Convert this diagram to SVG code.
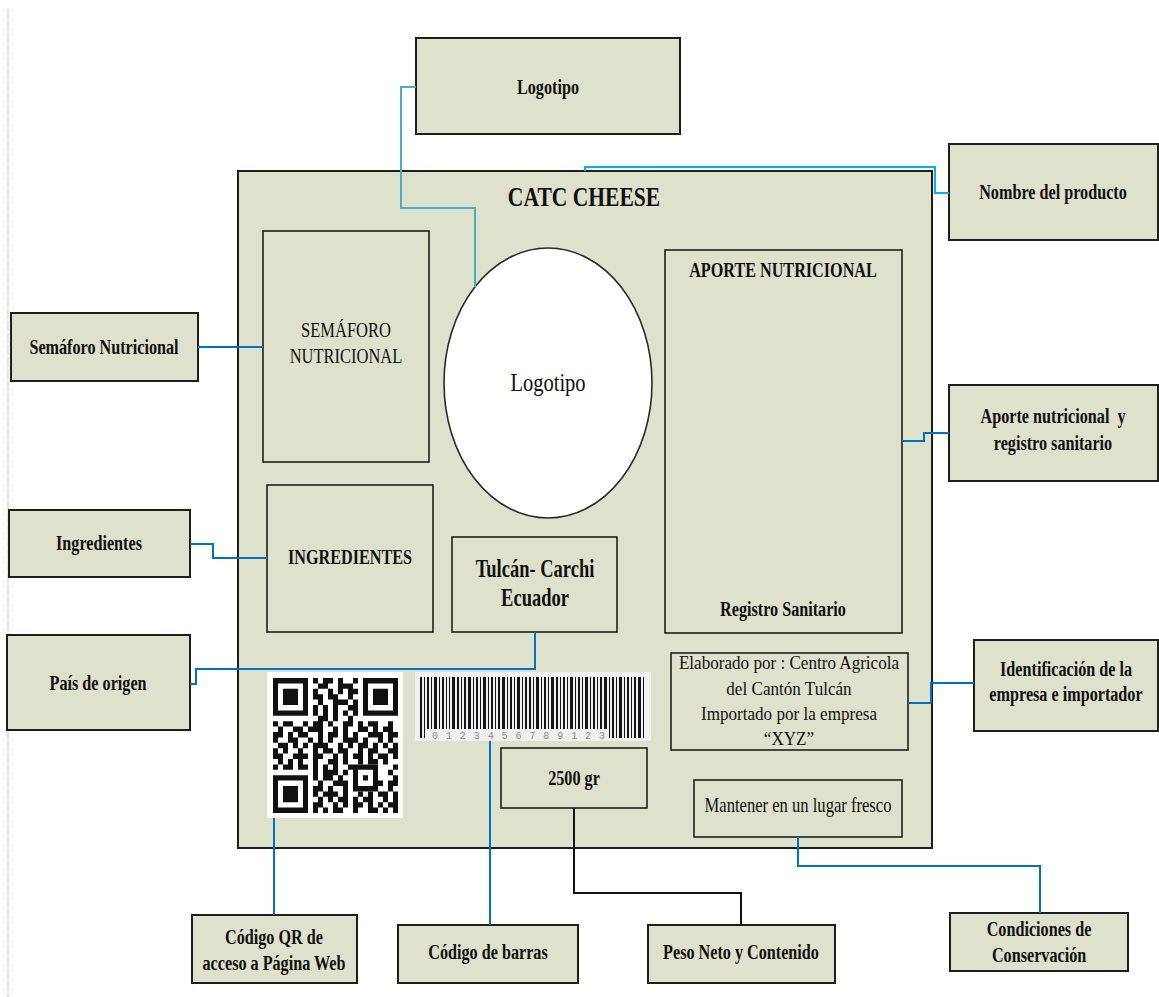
<svg xmlns="http://www.w3.org/2000/svg" width="1159" height="997" viewBox="0 0 1159 997">
  <style>
    .box { fill: #dee1cc; stroke: #1e1e1e; stroke-width: 2; }
    .inner { fill: #dee1cc; stroke: #1e1e1e; stroke-width: 1.6; }
    .t { font-family: "Liberation Serif", "Times New Roman", serif; font-size: 21px; font-weight: bold; text-anchor: middle; fill: #111;
         transform-box: fill-box; transform-origin: center; transform: scaleX(0.77); }
    .n { font-weight: normal; }
    .wire { fill: none; stroke: #0070c0; stroke-width: 2; }
  </style>

  <!-- page margin guide -->
  <line x1="8" y1="9" x2="8" y2="997" stroke="#e2e2e2" stroke-width="2" stroke-dasharray="10 2"/>

  <!-- label panel -->
  <g id="panel">
    <rect class="box" x="238" y="171" width="694" height="677"/>
    <text class="t" x="584" y="206" style="font-size:28px">CATC CHEESE</text>
  </g>

  <g id="semaforo-inner">
    <rect class="inner" x="263" y="231" width="166" height="231"/>
    <text class="t n" x="346" y="337" style="font-size:22px;transform:scaleX(0.75)">SEMÁFORO</text>
    <text class="t n" x="346" y="363" style="font-size:22px;transform:scaleX(0.75)">NUTRICIONAL</text>
  </g>

  <g id="logo-oval">
    <ellipse cx="548" cy="383" rx="104" ry="135" fill="#fff" stroke="#2a2a2a" stroke-width="1.6"/>
    <text class="t n" x="548" y="391" style="font-size:26px;transform:scaleX(0.79)">Logotipo</text>
  </g>

  <g id="aporte-inner">
    <rect class="inner" x="665" y="250" width="237" height="383"/>
    <text class="t" x="783" y="277">APORTE NUTRICIONAL</text>
    <text class="t" x="783" y="616">Registro Sanitario</text>
  </g>

  <g id="ingredientes-inner">
    <rect class="inner" x="267" y="485" width="166" height="147"/>
    <text class="t" x="350" y="564">INGREDIENTES</text>
  </g>

  <g id="origen-inner">
    <rect class="inner" x="452" y="537" width="165" height="95"/>
    <text class="t" x="535" y="577" style="font-size:25px;transform:scaleX(0.74)">Tulcán- Carchi</text>
    <text class="t" x="535" y="606" style="font-size:25px;transform:scaleX(0.74)">Ecuador</text>
  </g>

  <g id="empresa-inner">
    <rect class="inner" x="671" y="653" width="237" height="97"/>
    <text class="t n" x="789" y="669" style="font-size:19px;transform:scaleX(0.9)">Elaborado por : Centro Agricola</text>
    <text class="t n" x="789" y="695" style="font-size:19px;transform:scaleX(0.9)">del Cantón Tulcán</text>
    <text class="t n" x="789" y="720" style="font-size:19px;transform:scaleX(0.9)">Importado por la empresa</text>
    <text class="t n" x="789" y="745" style="font-size:19px;transform:scaleX(0.9)">“XYZ”</text>
  </g>

  <g id="qr-code">
    <rect x="267" y="672" width="136" height="146" fill="#fff"/>
    <g transform="translate(273 678) scale(5 5.4)" fill="#111">
      <path fill-rule="evenodd" d="M0 0h7v7h-7z M1 1h5v5h-5z M2 2h3v3h-3z M18 0h7v7h-7z M19 1h5v5h-5z M20 2h3v3h-3z M0 18h7v7h-7z M1 19h5v5h-5z M2 20h3v3h-3z"/>
      <path d="M8 0h1v1h-1z M10 0h2v1h-2z M13 0h1v1h-1z M16 0h1v1h-1z
               M9 1h2v1h-2z M13 1h3v1h-3z
               M8 2h1v1h-1z M11 2h1v1h-1z M13 2h1v1h-1z M15 2h2v1h-2z
               M8 3h2v1h-2z M11 3h2v1h-2z M15 3h1v1h-1z
               M9 4h1v1h-1z M12 4h3v1h-3z M16 4h1v1h-1z
               M8 5h1v1h-1z M10 5h1v1h-1z M12 5h1v1h-1z M15 5h2v1h-2z
               M8 6h1v1h-1z M10 6h1v1h-1z M12 6h1v1h-1z M14 6h1v1h-1z M16 6h1v1h-1z
               M9 7h2v1h-2z M12 7h1v1h-1z M15 7h1v1h-1z
               M0 8h1v1h-1z M2 8h2v1h-2z M6 8h1v1h-1z M8 8h2v1h-2z M11 8h1v1h-1z M14 8h2v1h-2z M17 8h1v1h-1z M19 8h2v1h-2z M23 8h1v1h-1z
               M1 9h1v1h-1z M4 9h2v1h-2z M7 9h3v1h-3z M12 9h1v1h-1z M14 9h1v1h-1z M17 9h2v1h-2z M20 9h1v1h-1z M22 9h2v1h-2z
               M0 10h2v1h-2z M3 10h1v1h-1z M5 10h2v1h-2z M9 10h1v1h-1z M11 10h2v1h-2z M14 10h1v1h-1z M16 10h1v1h-1z M19 10h3v1h-3z M23 10h2v1h-2z
               M0 11h1v1h-1z M3 11h2v1h-2z M7 11h1v1h-1z M9 11h1v1h-1z M11 11h1v1h-1z M14 11h3v1h-3z M18 11h1v1h-1z M21 11h1v1h-1z M23 11h1v1h-1z
               M1 12h2v1h-2z M4 12h1v1h-1z M6 12h1v1h-1z M8 12h3v1h-3z M13 12h1v1h-1z M15 12h1v1h-1z M17 12h2v1h-2z M20 12h1v1h-1z M22 12h1v1h-1z M24 12h1v1h-1z
               M0 13h1v1h-1z M2 13h1v1h-1z M5 13h1v1h-1z M8 13h1v1h-1z M10 13h2v1h-2z M13 13h2v1h-2z M17 13h1v1h-1z M19 13h2v1h-2z M23 13h2v1h-2z
               M0 14h2v1h-2z M4 14h3v1h-3z M8 14h2v1h-2z M12 14h1v1h-1z M14 14h1v1h-1z M16 14h2v1h-2z M19 14h1v1h-1z M21 14h2v1h-2z M24 14h1v1h-1z
               M1 15h1v1h-1z M3 15h1v1h-1z M5 15h1v1h-1z M8 15h1v1h-1z M11 15h2v1h-2z M14 15h1v1h-1z M17 15h1v1h-1z M19 15h2v1h-2z M22 15h1v1h-1z
               M0 16h1v1h-1z M2 16h2v1h-2z M5 16h2v1h-2z M8 16h1v1h-1z M10 16h1v1h-1z M12 16h1v1h-1z M15 16h1v1h-1z M24 16h1v1h-1z
               M8 17h1v1h-1z M10 17h3v1h-3z M14 17h1v1h-1z M23 17h1v1h-1z
               M8 18h1v1h-1z M10 18h2v1h-2z M13 18h1v1h-1z M24 18h1v1h-1z
               M9 19h1v1h-1z M12 19h3v1h-3z M21 19h1v1h-1z M23 19h2v1h-2z
               M8 20h2v1h-2z M11 20h1v1h-1z M14 20h1v1h-1z M23 20h1v1h-1z
               M8 21h1v1h-1z M10 21h3v1h-3z M14 21h1v1h-1z M17 21h1v1h-1z M19 21h1v1h-1z M21 21h2v1h-2z M24 21h1v1h-1z
               M9 22h1v1h-1z M11 22h1v1h-1z M13 22h2v1h-2z M16 22h1v1h-1z M18 22h2v1h-2z M22 22h1v1h-1z M24 22h1v1h-1z
               M8 23h2v1h-2z M12 23h1v1h-1z M14 23h1v1h-1z M16 23h2v1h-2z M19 23h1v1h-1z M21 23h1v1h-1z M23 23h2v1h-2z
               M8 24h1v1h-1z M10 24h1v1h-1z M12 24h2v1h-2z M16 24h1v1h-1z M19 24h2v1h-2z M22 24h1v1h-1z M24 24h1v1h-1z"/>
      <path fill-rule="evenodd" d="M16 16h5v5h-5z M17 17h3v3h-3z M18 18h1v1h-1z"/>
    </g>
  </g>

  <g id="barcode">
    <rect x="415" y="672" width="236" height="69" fill="#f0f0f0"/>
    <path fill="#151515" d="M427 677h2v52h-2z M431 677h1v52h-1z M434 677h3v52h-3z M439 677h1v52h-1z M442 677h2v52h-2z M446 677h1v52h-1z
      M449 677h1v52h-1z M452 677h3v52h-3z M457 677h2v52h-2z M461 677h1v52h-1z M464 677h2v52h-2z M468 677h3v52h-3z M473 677h1v52h-1z
      M476 677h2v52h-2z M480 677h1v52h-1z M483 677h3v52h-3z M488 677h1v52h-1z M491 677h2v52h-2z M495 677h1v52h-1z M498 677h2v52h-2z
      M502 677h3v52h-3z M507 677h1v52h-1z M510 677h2v52h-2z M514 677h1v52h-1z M517 677h3v52h-3z M522 677h1v52h-1z M525 677h2v52h-2z
      M529 677h2v52h-2z M533 677h1v52h-1z M536 677h3v52h-3z M541 677h1v52h-1z M544 677h2v52h-2z M548 677h1v52h-1z M551 677h3v52h-3z
      M556 677h2v52h-2z M560 677h1v52h-1z M563 677h2v52h-2z M567 677h1v52h-1z M570 677h3v52h-3z M575 677h1v52h-1z M578 677h2v52h-2z
      M582 677h1v52h-1z M585 677h3v52h-3z M590 677h1v52h-1z M593 677h2v52h-2z M597 677h1v52h-1z M600 677h2v52h-2z M604 677h3v52h-3z
      M420 677h2v61h-2z M424 677h1v61h-1z M609 677h1v61h-1z M612 677h2v61h-2z M616 677h1v61h-1z M619 677h3v61h-3z M624 677h1v61h-1z
      M627 677h2v61h-2z M631 677h1v61h-1z M634 677h2v61h-2z M638 677h3v61h-3z M643 677h1v61h-1z"/>
    <text x="432" y="739" textLength="173" lengthAdjust="spacing" font-family="'Liberation Mono', monospace" font-size="10" fill="#8a8a8a">0 1 2 3 4 5 6 7 8 9 1 2 3</text>
  </g>

  <g id="peso-inner">
    <rect class="inner" x="501" y="748" width="146" height="60"/>
    <text class="t" x="574" y="785">2500 gr</text>
  </g>

  <g id="conservar-inner">
    <rect class="inner" x="694" y="780" width="208" height="57"/>
    <text class="t n" x="798" y="812" style="font-size:20px;transform:scaleX(0.83)">Mantener en un lugar fresco</text>
  </g>

  <!-- callout labels -->
  <g id="logotipo">
    <rect class="box" x="416" y="38" width="264" height="96"/>
    <text class="t" x="548" y="94">Logotipo</text>
  </g>
  <g id="nombre">
    <rect class="box" x="949" y="144" width="209" height="96"/>
    <text class="t" x="1053" y="199">Nombre del producto</text>
  </g>
  <g id="semaforo">
    <rect class="box" x="11" y="313" width="187" height="68"/>
    <text class="t" x="104" y="354">Semáforo Nutricional</text>
  </g>
  <g id="aporte">
    <rect class="box" x="949" y="385" width="209" height="96"/>
    <text class="t" x="1053" y="423">Aporte nutricional&#160; y</text>
    <text class="t" x="1053" y="450">registro sanitario</text>
  </g>
  <g id="ingredientes">
    <rect class="box" x="9" y="510" width="181" height="67"/>
    <text class="t" x="99" y="550">Ingredientes</text>
  </g>
  <g id="pais">
    <rect class="box" x="7" y="635" width="183" height="95"/>
    <text class="t" x="98" y="690">País de origen</text>
  </g>
  <g id="identificacion">
    <rect class="box" x="974" y="640" width="184" height="91"/>
    <text class="t" x="1066" y="676">Identificación de la</text>
    <text class="t" x="1066" y="701">empresa e importador</text>
  </g>
  <g id="qr">
    <rect class="box" x="192" y="915" width="165" height="68"/>
    <text class="t" x="274" y="944">Código QR de</text>
    <text class="t" x="274" y="970">acceso a Página Web</text>
  </g>
  <g id="barras">
    <rect class="box" x="398" y="925" width="180" height="58"/>
    <text class="t" x="488" y="959">Código de barras</text>
  </g>
  <g id="peso">
    <rect class="box" x="648" y="925" width="187" height="58"/>
    <text class="t" x="741" y="959">Peso Neto y Contenido</text>
  </g>
  <g id="condiciones">
    <rect class="box" x="950" y="913" width="178" height="58"/>
    <text class="t" x="1039" y="936">Condiciones de</text>
    <text class="t" x="1039" y="962">Conservación</text>
  </g>

  <!-- connectors -->
  <g id="connectors">
    <path class="wire" style="stroke:#4bacc6" d="M416 87H401V208H475V287"/>
    <path class="wire" style="stroke:#00b0f0" d="M585 171V167H935V193H949"/>
    <path class="wire" d="M198 347H263"/>
    <path class="wire" d="M190 544H213V558H267"/>
    <path class="wire" d="M190 684H196V669H535V632"/>
    <path class="wire" d="M902 441H924V433H949"/>
    <path class="wire" d="M908 703H931V683H974"/>
    <path class="wire" d="M274 818V915"/>
    <path class="wire" d="M490 741V925"/>
    <path class="wire" style="stroke:#111" d="M574 808V893H741V925"/>
    <path class="wire" d="M798 837V866H1040V913"/>
  </g>
</svg>
